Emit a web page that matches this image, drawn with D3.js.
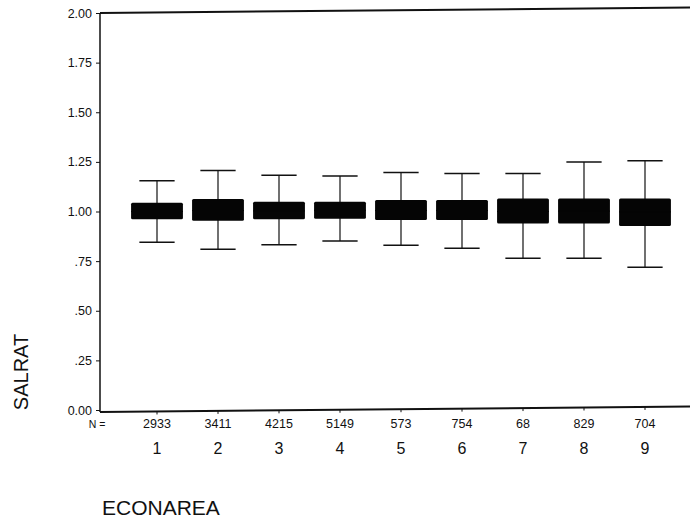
<!DOCTYPE html>
<html>
<head>
<meta charset="utf-8">
<script src="https://cdn.jsdelivr.net/npm/d3@7"></script>
<style>
  body { margin: 0; padding: 0; background: #fff; }
  svg text { font-family: "Liberation Sans", Arial, sans-serif; fill: #111; }
</style>
</head>
<body>
<script>
// ECONAREA groups and their N counts
var areas   = [1, 2, 3, 4, 5, 6, 7, 8, 9];
var counts  = [2933, 3411, 4215, 5149, 573, 754, 68, 829, 704];

// box stats (SALRAT)
var whiskerLow  = [0.845, 0.810, 0.833, 0.851, 0.830, 0.815, 0.764, 0.764, 0.719];
var boxLow      = [0.961, 0.954, 0.961, 0.964, 0.957, 0.957, 0.940, 0.940, 0.927];
var medians     = [1.000, 1.005, 1.003, 1.006, 1.005, 1.005, 1.000, 1.002, 0.998];
var boxHigh     = [1.044, 1.063, 1.049, 1.049, 1.058, 1.058, 1.066, 1.066, 1.066];
var whiskerHigh = [1.155, 1.206, 1.182, 1.179, 1.196, 1.192, 1.192, 1.249, 1.256];

var yTicks      = [0, 0.25, 0.5, 0.75, 1, 1.25, 1.5, 1.75, 2];
var yTickLabels = ["0.00", ".25", ".50", ".75", "1.00", "1.25", "1.50", "1.75", "2.00"];

var W = 690, H = 521;
var pLeft = 100, pRight = 690, pTop = 13, pBottom = 410;   // (window.top is taken, hence the p prefix)
var tilt = 5.5;   // scan is a little rotated, frame lines drop to the left

var svg = d3.select("body").append("svg")
  .attr("width", W).attr("height", H);

var x = d3.scalePoint().domain(areas).range([157, 645]);
var y = d3.scaleLinear().domain([0, 2]).range([pBottom, pTop]);
var boxW = x.step() * 0.85;
var capW = boxW * 0.68;

function drop(px) { return tilt * (px - pLeft) / (pRight - pLeft); }

// frame: left axis, top line, bottom line (no right side)
svg.append("line")
  .attr("x1", pLeft).attr("x2", pLeft)
  .attr("y1", pTop).attr("y2", pBottom + 2)
  .attr("stroke", "#111").attr("stroke-width", 1.5);
svg.append("line")
  .attr("x1", pLeft).attr("x2", pRight)
  .attr("y1", pTop).attr("y2", pTop - tilt)
  .attr("stroke", "#111").attr("stroke-width", 2);
svg.append("line")
  .attr("x1", pLeft).attr("x2", pRight)
  .attr("y1", pBottom + 2).attr("y2", pBottom + 2 - tilt)
  .attr("stroke", "#111").attr("stroke-width", 2);

// y axis
var yAxis = d3.axisLeft(y)
  .tickValues(yTicks)
  .tickSize(4)
  .tickPadding(4)
  .tickFormat(function (d, i) { return yTickLabels[i]; });

var gy = svg.append("g")
  .attr("transform", "translate(" + pLeft + ",0)")
  .call(yAxis);
gy.select(".domain").remove();
gy.selectAll("text").style("font-size", "12.5px").attr("fill", "#111");
gy.selectAll("line").attr("stroke", "#111");

// small ticks under the bottom line
svg.selectAll(".xtick").data(areas).enter().append("line")
  .attr("class", "xtick")
  .attr("x1", function (d) { return x(d); })
  .attr("x2", function (d) { return x(d); })
  .attr("y1", function (d) { return pBottom + 2 - drop(x(d)); })
  .attr("y2", function (d) { return pBottom + 5 - drop(x(d)); })
  .attr("stroke", "#111");

// boxes
var g = svg.selectAll(".box").data(areas).enter().append("g").attr("class", "box");

g.append("line")
  .attr("x1", function (d) { return x(d); })
  .attr("x2", function (d) { return x(d); })
  .attr("y1", function (d, i) { return y(whiskerLow[i]); })
  .attr("y2", function (d, i) { return y(whiskerHigh[i]); })
  .attr("stroke", "#111").attr("stroke-width", 1.2);

g.append("line")
  .attr("x1", function (d) { return x(d) - capW / 2; })
  .attr("x2", function (d) { return x(d) + capW / 2; })
  .attr("y1", function (d, i) { return y(whiskerLow[i]); })
  .attr("y2", function (d, i) { return y(whiskerLow[i]); })
  .attr("stroke", "#111").attr("stroke-width", 1.5);

g.append("line")
  .attr("x1", function (d) { return x(d) - capW / 2; })
  .attr("x2", function (d) { return x(d) + capW / 2; })
  .attr("y1", function (d, i) { return y(whiskerHigh[i]); })
  .attr("y2", function (d, i) { return y(whiskerHigh[i]); })
  .attr("stroke", "#111").attr("stroke-width", 1.5);

g.append("rect")
  .attr("x", function (d) { return x(d) - boxW / 2; })
  .attr("y", function (d, i) { return y(boxHigh[i]); })
  .attr("width", boxW)
  .attr("height", function (d, i) { return y(boxLow[i]) - y(boxHigh[i]); })
  .attr("rx", 1.5)
  .attr("fill", "#050505");

// median line is black on black in the scan
g.append("line")
  .attr("x1", function (d) { return x(d) - boxW / 2; })
  .attr("x2", function (d) { return x(d) + boxW / 2; })
  .attr("y1", function (d, i) { return y(medians[i]); })
  .attr("y2", function (d, i) { return y(medians[i]); })
  .attr("stroke", "#050505");

// N = counts
svg.append("text")
  .attr("x", 97).attr("y", 428)
  .attr("text-anchor", "middle")
  .style("font-size", "10.5px")
  .text("N =");

svg.selectAll(".count").data(areas).enter().append("text")
  .attr("class", "count")
  .attr("x", function (d) { return x(d); })
  .attr("y", 428)
  .attr("text-anchor", "middle")
  .style("font-size", "12.5px")
  .text(function (d, i) { return counts[i]; });

// category labels
svg.selectAll(".cat").data(areas).enter().append("text")
  .attr("class", "cat")
  .attr("x", function (d) { return x(d); })
  .attr("y", 454)
  .attr("text-anchor", "middle")
  .style("font-size", "16px")
  .text(function (d) { return d; });

// axis titles
svg.append("text")
  .attr("x", 102).attr("y", 515)
  .style("font-size", "21px")
  .text("ECONAREA");

svg.append("text")
  .attr("transform", "translate(28,372) rotate(-90)")
  .attr("text-anchor", "middle")
  .style("font-size", "20px")
  .text("SALRAT");
</script>
</body>
</html>
